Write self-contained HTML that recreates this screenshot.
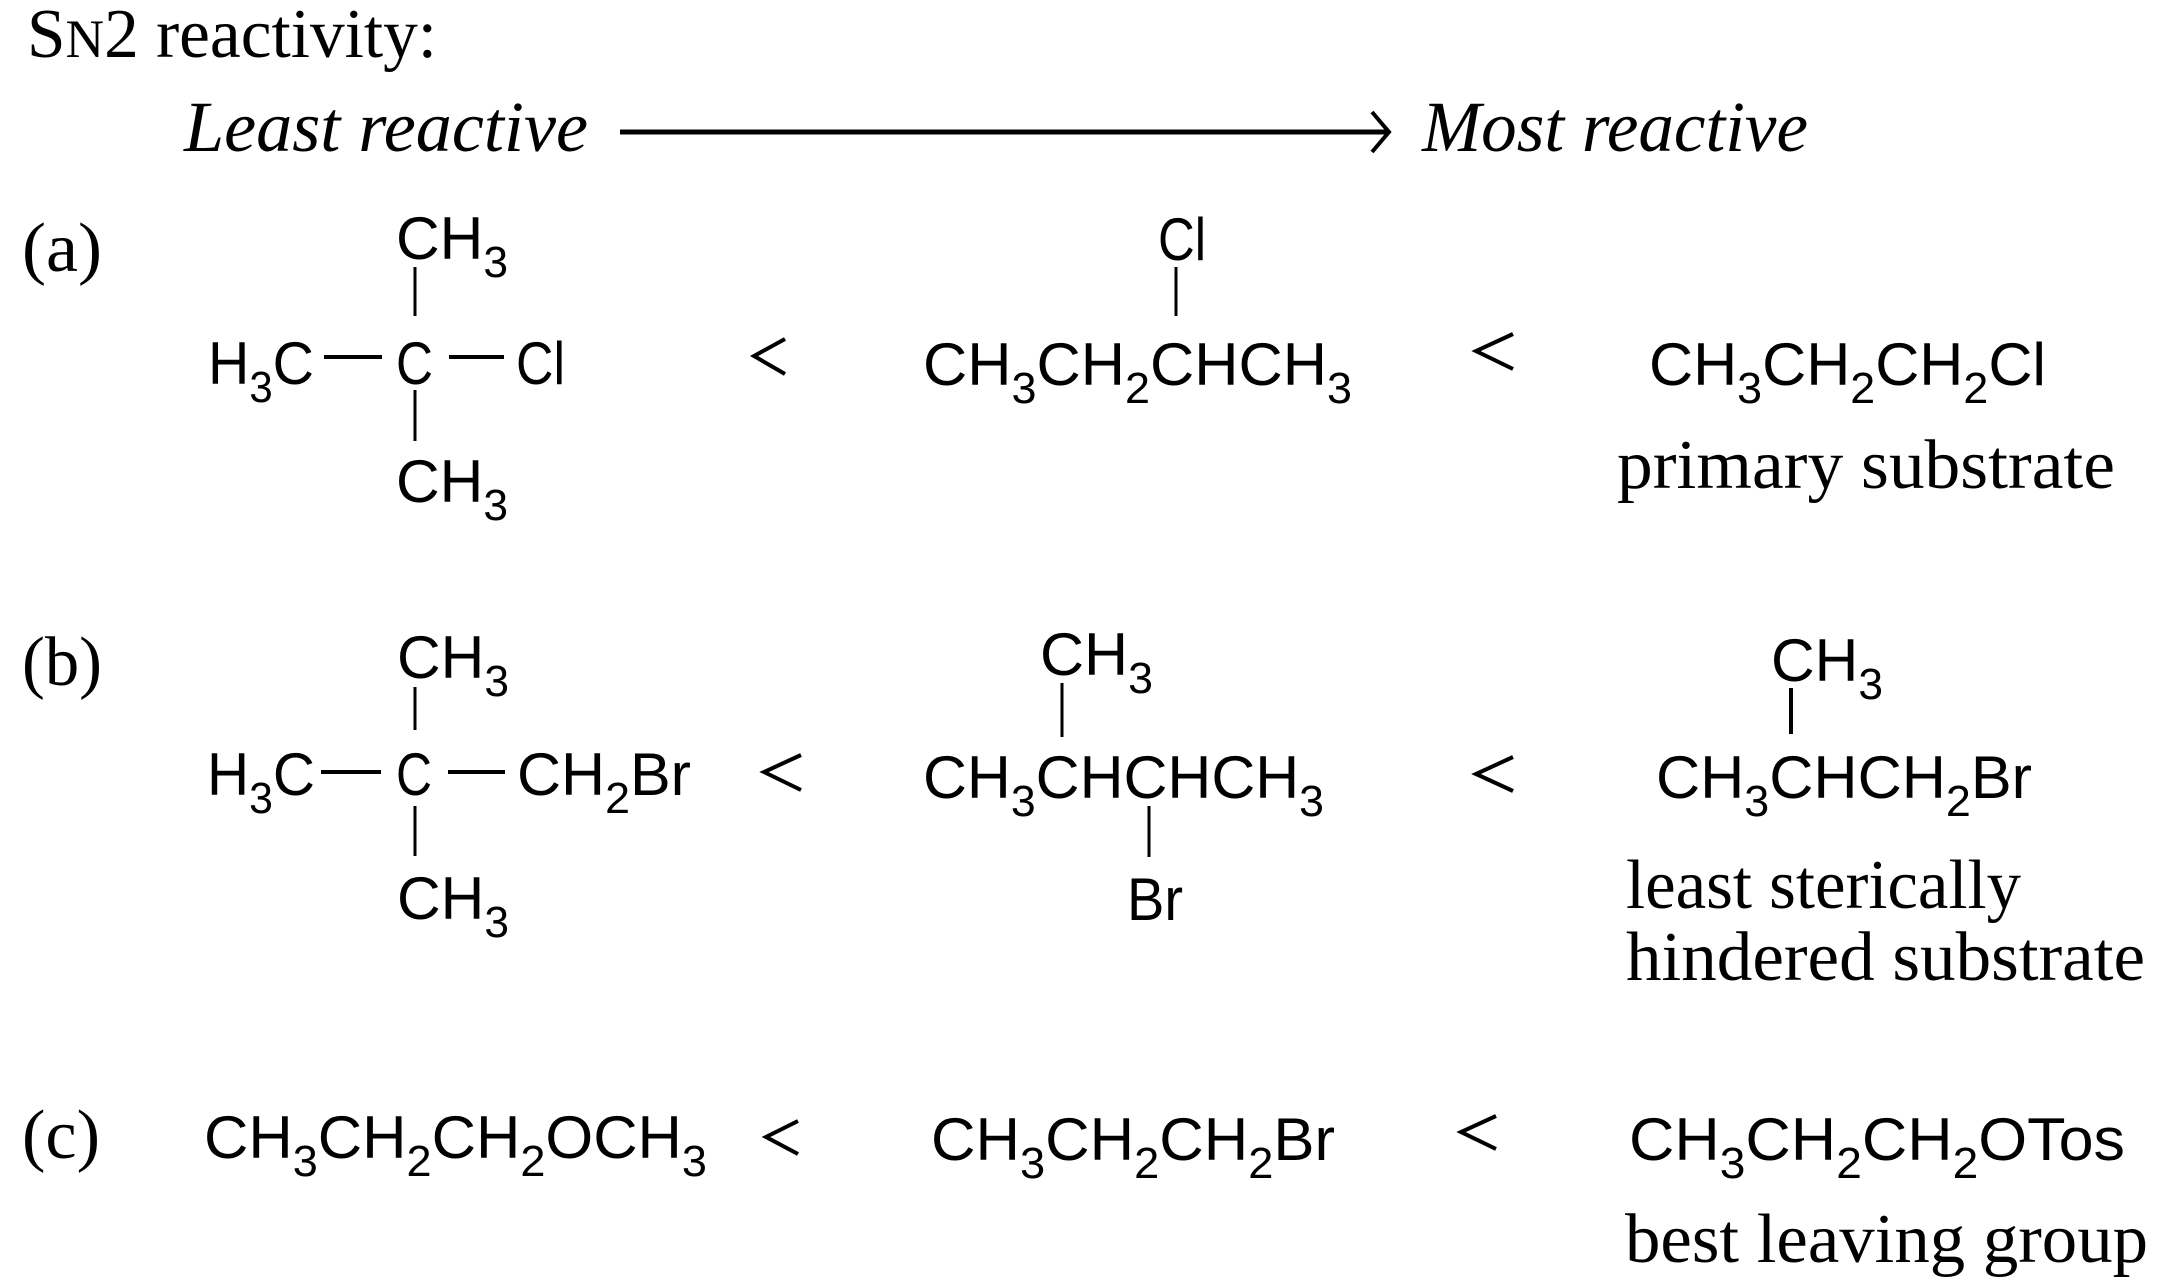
<!DOCTYPE html>
<html><head><meta charset="utf-8"><style>
html,body{margin:0;padding:0;background:#fff;}
svg{display:block;}
.s{font-family:"Liberation Sans",sans-serif;font-size:60px;fill:#000;}
.r{font-family:"Liberation Serif",serif;font-size:70px;fill:#000;}
.i{font-family:"Liberation Serif",serif;font-size:72px;font-style:italic;fill:#000;}
line,polyline{stroke:#000;fill:none;}
</style></head><body>
<svg width="2160" height="1281" viewBox="0 0 2160 1281" xmlns="http://www.w3.org/2000/svg">
<defs></defs>
<text class="r" x="27" y="57" font-size="74" textLength="410" lengthAdjust="spacingAndGlyphs">S<tspan font-size="54">N</tspan>2 reactivity:</text>
<text class="i" x="184" y="151" textLength="404" lengthAdjust="spacingAndGlyphs">Least reactive</text>
<line x1="620" y1="132" x2="1387" y2="132" stroke-width="5"/>
<polyline points="1372,112 1389,132 1372,152" stroke-width="4"/>
<text class="i" x="1422" y="151" textLength="386" lengthAdjust="spacingAndGlyphs">Most reactive</text>

<!-- (a) -->
<text class="r" x="22" y="271" font-size="72" textLength="80" lengthAdjust="spacingAndGlyphs">(a)</text>
<text class="s" x="396" y="259" textLength="112" lengthAdjust="spacingAndGlyphs">CH<tspan font-size="44" dy="18">3</tspan></text>
<line x1="415" y1="267" x2="415" y2="316" stroke-width="3"/>
<text class="s" x="208" y="384" textLength="106" lengthAdjust="spacingAndGlyphs">H<tspan font-size="44" dy="18">3</tspan><tspan dy="-18">C</tspan></text>
<line x1="324" y1="357" x2="382" y2="357" stroke-width="4"/>
<text class="s" x="396" y="384" textLength="37" lengthAdjust="spacingAndGlyphs">C</text>
<line x1="449" y1="357" x2="504" y2="357" stroke-width="4"/>
<text class="s" x="516" y="384" textLength="49" lengthAdjust="spacingAndGlyphs">Cl</text>
<line x1="415" y1="390" x2="415" y2="441" stroke-width="3"/>
<text class="s" x="396" y="502" textLength="112" lengthAdjust="spacingAndGlyphs">CH<tspan font-size="44" dy="18">3</tspan></text>
<polyline points="785,339 754,356 785,374" stroke-width="4"/>

<text class="s" x="1158" y="260" textLength="48" lengthAdjust="spacingAndGlyphs">Cl</text>
<line x1="1176" y1="267" x2="1176" y2="316" stroke-width="3"/>
<text class="s" x="923" y="385" textLength="429" lengthAdjust="spacingAndGlyphs">CH<tspan font-size="44" dy="18">3</tspan><tspan dy="-18">CH</tspan><tspan font-size="44" dy="18">2</tspan><tspan dy="-18">CHCH</tspan><tspan font-size="44" dy="18">3</tspan></text>
<polyline points="1513,334 1476,351 1513,369" stroke-width="4"/>

<text class="s" x="1649" y="385" textLength="397" lengthAdjust="spacingAndGlyphs">CH<tspan font-size="44" dy="18">3</tspan><tspan dy="-18">CH</tspan><tspan font-size="44" dy="18">2</tspan><tspan dy="-18">CH</tspan><tspan font-size="44" dy="18">2</tspan><tspan dy="-18">Cl</tspan></text>
<text class="r" x="1617" y="488" textLength="498" lengthAdjust="spacingAndGlyphs">primary substrate</text>

<!-- (b) -->
<text class="r" x="22" y="685" font-size="72" textLength="80" lengthAdjust="spacingAndGlyphs">(b)</text>
<text class="s" x="397" y="678" textLength="112" lengthAdjust="spacingAndGlyphs">CH<tspan font-size="44" dy="18">3</tspan></text>
<line x1="415" y1="687" x2="415" y2="730" stroke-width="3"/>
<text class="s" x="207" y="795" textLength="108" lengthAdjust="spacingAndGlyphs">H<tspan font-size="44" dy="18">3</tspan><tspan dy="-18">C</tspan></text>
<line x1="321" y1="772" x2="381" y2="772" stroke-width="4"/>
<text class="s" x="396" y="795" textLength="36" lengthAdjust="spacingAndGlyphs">C</text>
<line x1="448" y1="772" x2="505" y2="772" stroke-width="4"/>
<text class="s" x="517" y="795" textLength="174" lengthAdjust="spacingAndGlyphs">CH<tspan font-size="44" dy="18">2</tspan><tspan dy="-18">Br</tspan></text>
<line x1="415" y1="806" x2="415" y2="856" stroke-width="3"/>
<text class="s" x="397" y="919" textLength="112" lengthAdjust="spacingAndGlyphs">CH<tspan font-size="44" dy="18">3</tspan></text>
<polyline points="801,755 764,772 801,790" stroke-width="4"/>

<text class="s" x="1040" y="675" textLength="113" lengthAdjust="spacingAndGlyphs">CH<tspan font-size="44" dy="18">3</tspan></text>
<line x1="1062" y1="683" x2="1062" y2="737" stroke-width="3"/>
<text class="s" x="923" y="798" textLength="401" lengthAdjust="spacingAndGlyphs">CH<tspan font-size="44" dy="18">3</tspan><tspan dy="-18">CHCHCH</tspan><tspan font-size="44" dy="18">3</tspan></text>
<line x1="1149" y1="806" x2="1149" y2="857" stroke-width="3"/>
<text class="s" x="1127" y="920" textLength="56" lengthAdjust="spacingAndGlyphs">Br</text>
<polyline points="1513,757 1476,774 1513,791" stroke-width="4"/>

<text class="s" x="1771" y="681" textLength="112" lengthAdjust="spacingAndGlyphs">CH<tspan font-size="44" dy="18">3</tspan></text>
<line x1="1791" y1="688" x2="1791" y2="734" stroke-width="4"/>
<text class="s" x="1656" y="798" textLength="376" lengthAdjust="spacingAndGlyphs">CH<tspan font-size="44" dy="18">3</tspan><tspan dy="-18">CHCH</tspan><tspan font-size="44" dy="18">2</tspan><tspan dy="-18">Br</tspan></text>
<text class="r" x="1626" y="908" textLength="395" lengthAdjust="spacingAndGlyphs">least sterically</text>
<text class="r" x="1626" y="980" textLength="519" lengthAdjust="spacingAndGlyphs">hindered substrate</text>

<!-- (c) -->
<text class="r" x="22" y="1158" font-size="72" textLength="78" lengthAdjust="spacingAndGlyphs">(c)</text>
<text class="s" x="204" y="1158" textLength="503" lengthAdjust="spacingAndGlyphs">CH<tspan font-size="44" dy="18">3</tspan><tspan dy="-18">CH</tspan><tspan font-size="44" dy="18">2</tspan><tspan dy="-18">CH</tspan><tspan font-size="44" dy="18">2</tspan><tspan dy="-18">OCH</tspan><tspan font-size="44" dy="18">3</tspan></text>
<polyline points="798,1121 766,1137 798,1154" stroke-width="4"/>
<text class="s" x="931" y="1160" textLength="404" lengthAdjust="spacingAndGlyphs">CH<tspan font-size="44" dy="18">3</tspan><tspan dy="-18">CH</tspan><tspan font-size="44" dy="18">2</tspan><tspan dy="-18">CH</tspan><tspan font-size="44" dy="18">2</tspan><tspan dy="-18">Br</tspan></text>
<polyline points="1496,1116 1461,1132 1496,1149" stroke-width="4"/>
<text class="s" x="1629" y="1160" textLength="496" lengthAdjust="spacingAndGlyphs">CH<tspan font-size="44" dy="18">3</tspan><tspan dy="-18">CH</tspan><tspan font-size="44" dy="18">2</tspan><tspan dy="-18">CH</tspan><tspan font-size="44" dy="18">2</tspan><tspan dy="-18">OTos</tspan></text>
<text class="r" x="1625" y="1262" textLength="523" lengthAdjust="spacingAndGlyphs">best leaving group</text>
</svg>
</body></html>
